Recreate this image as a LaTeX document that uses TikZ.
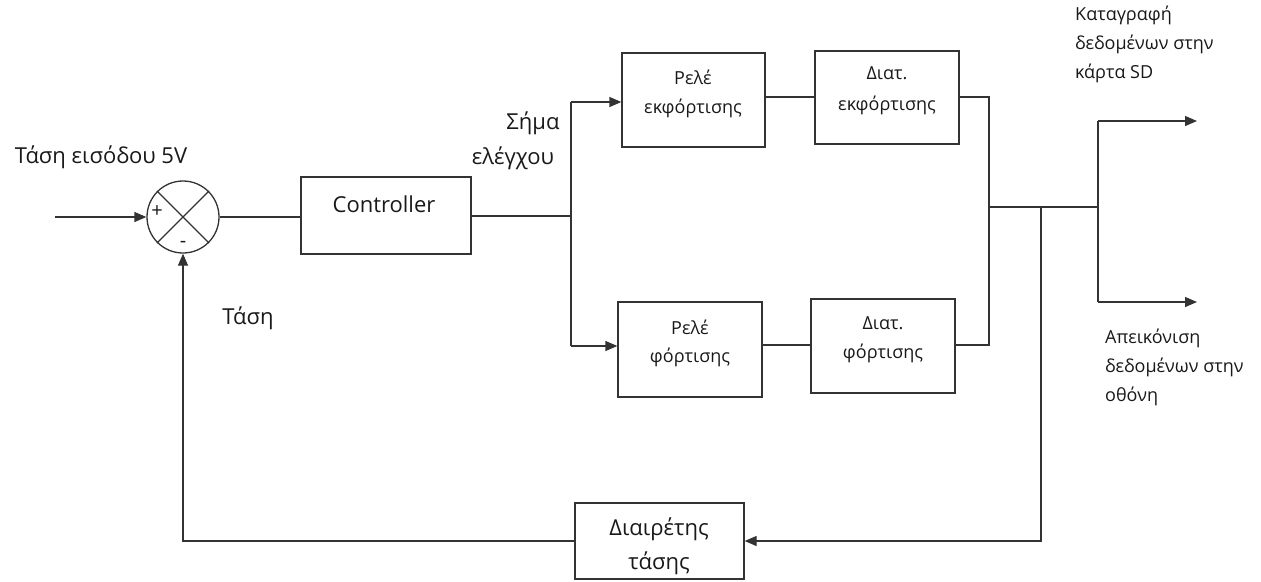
\documentclass[tikz,border=0pt]{standalone}
\usepackage{fontspec}
\setmainfont{Open Sans}
\usetikzlibrary{arrows.meta}
\tikzset{
  wire/.style={draw=black!80, line width=1.3pt},
  arr/.style={wire, -{Triangle[length=12pt,width=10pt]}},
  blk/.style={draw=black!80, line width=1.3pt, rectangle, inner sep=0pt},
  lbl/.style={inner sep=0pt, text=black!90},
  big/.style={lbl, font=\fontsize{22}{26}\selectfont},
  btxt/.style={lbl, font=\fontsize{18}{21}\selectfont},
  side/.style={lbl, font=\fontsize{18}{29}\selectfont, align=left, anchor=north west},
}
\begin{document}
\begin{tikzpicture}[x=1pt,y=-1pt]
\useasboundingbox (0,0) rectangle (1261,581);
% blocks
\node[draw=black!80, line width=1.3pt, circle, minimum size=72pt, inner sep=0pt] (sum) at (183,217) {};
\draw[wire] (sum.north west) -- (sum.south east) (sum.north east) -- (sum.south west);
\node[blk, minimum width=170pt, minimum height=77pt] (ctrl) at (386,215.5) {};
\node[blk, minimum width=143pt, minimum height=94pt] (r1) at (693.5,100) {};
\node[blk, minimum width=144pt, minimum height=93pt] (d1) at (887,97.5) {};
\node[blk, minimum width=144pt, minimum height=95pt] (r2) at (690,349.5) {};
\node[blk, minimum width=144pt, minimum height=94pt] (d2) at (883,346) {};
\node[blk, minimum width=169pt, minimum height=76pt] (div) at (659.5,541) {};
% texts
\node[big] (tin) at (101,157) {Τάση εισόδου 5V};
\node[lbl, font=\fontsize{20}{22}\selectfont] (plus) at (157,212) {+};
\node[lbl, font=\fontsize{20}{22}\selectfont] (minus) at (183,244) {-};
\node[big] (tfb) at (248,318) {Τάση};
\node[big] (ctrlt) at (384,204) {Controller};
\node[big] (sig1) at (533,123) {Σήμα};
\node[big] (sig2) at (513,158) {ελέγχου};
\node[btxt] (r1a) at (693,77) {Ρελέ};
\node[btxt] (r1b) at (693,108) {εκφόρτισης};
\node[btxt] (d1a) at (887,73) {Διατ.};
\node[btxt] (d1b) at (887,105) {εκφόρτισης};
\node[btxt] (r2a) at (690,327) {Ρελέ};
\node[btxt] (r2b) at (690,357) {φόρτισης};
\node[btxt] (d2a) at (883,323) {Διατ.};
\node[btxt] (d2b) at (883,353) {φόρτισης};
\node[big] (diva) at (659,529) {Διαιρέτης};
\node[big] (divb) at (659,563) {τάσης};
\node[side] (out1) at (1075,6) {Καταγραφή\\δεδομένων στην\\κάρτα SD};
\node[side] (out2) at (1105,329) {Απεικόνιση\\δεδομένων στην\\οθόνη};
% coordinates
\coordinate (in) at (55,217);
\coordinate (j1) at (571,216);
\coordinate (j1t) at (571,102);
\coordinate (j1b) at (571,346);
\coordinate (j2t) at (989,97);
\coordinate (j2b) at (989,345);
\coordinate (j2) at (989,207);
\coordinate (j3) at (1041,207);
\coordinate (j4) at (1098,207);
\coordinate (o1s) at (1098,121);
\coordinate (o2s) at (1098,302);
\coordinate (o1) at (1197,121);
\coordinate (o2) at (1197,302);
\coordinate (fb1) at (1041,541);
\coordinate (fb2) at (183,541);
% connectors
\draw[arr] (in) -- (sum.west);
\draw[wire] (sum.east) -- (sum.east -| ctrl.west);
\draw[wire] (ctrl.east |- j1) -- (j1);
\draw[wire] (j1t) -- (j1b);
\draw[arr] (j1t) -- (r1.west |- j1t);
\draw[arr] (j1b) -- (r2.west |- j1b);
\draw[wire] (r1.east |- j2t) -- (d1.west |- j2t);
\draw[wire] (r2.east |- j2b) -- (d2.west |- j2b);
\draw[wire] (d1.east |- j2t) -- (j2t) -- (j2b) -- (d2.east |- j2b);
\draw[wire] (j2) -- (j4);
\draw[wire] (o1s) -- (o2s);
\draw[arr] (o1s) -- (o1);
\draw[arr] (o2s) -- (o2);
\draw[arr] (j3) -- (fb1) -- (div.east);
\draw[arr] (div.west) -- (fb2) -- (sum.south);
\end{tikzpicture}
\end{document}
